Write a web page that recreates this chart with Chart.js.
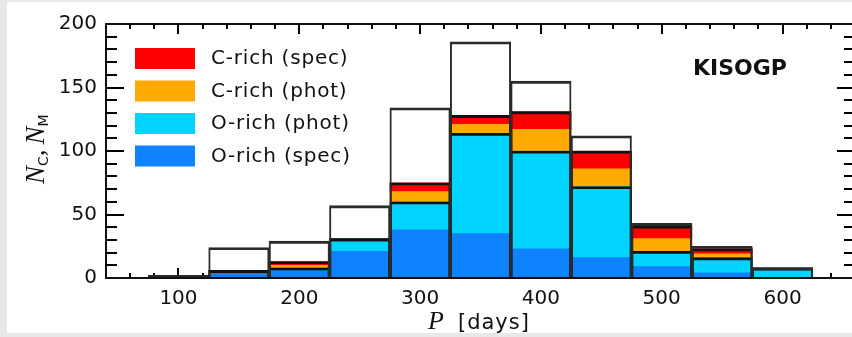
<!DOCTYPE html>
<html>
<head>
<meta charset="utf-8">
<script src="https://cdn.jsdelivr.net/npm/chart.js@4.4.1/dist/chart.umd.min.js"></script>
<style>
  html, body { margin: 0; padding: 0; overflow: hidden; background: #e6e8ea; }
  #panel { position: absolute; left: 7px; top: 2px; width: 845px; height: 331px; background: #fff; }
  #wrap { position: absolute; left: 0; top: 0; width: 860px; height: 337px; }
</style>
</head>
<body>
<div id="panel"></div>
<div id="wrap"><canvas id="chart"></canvas></div>
<script>
// bin centres (days), bins are 50 days wide
const periods = [100, 150, 200, 250, 300, 350, 400, 450, 500, 550, 600];
const oRichSpec = [2, 6, 7, 21, 38, 35, 23, 16, 9, 4, 0];
const oRichPhot = [0, 0, 1, 10, 22, 79, 77, 56, 12, 12, 8];
const cRichPhot = [0, 0, 2, 0, 8, 7, 17, 14, 10, 3, 0];
const cRichSpec = [0, 0, 3, 0, 7, 7, 14, 14, 10, 4, 0];
const allStars = [2, 24, 29, 57, 134, 186, 155, 112, 43, 25, 8];
const xTicks = [100, 200, 300, 400, 500, 600];
const yTicks = [0, 50, 100, 150, 200];
const legendNames = ["C-rich (spec)", "C-rich (phot)", "O-rich (phot)", "O-rich (spec)"];

const RED = "#ff0000";
const ORANGE = "#ffaa00";
const CYAN = "#00d4ff";
const BLUE = "#0f82ff";
const INK = "#111111";

const oTotal = periods.map((p, i) => oRichSpec[i] + oRichPhot[i]);
const cTop = periods.map((p, i) => oTotal[i] + cRichPhot[i] + cRichSpec[i]);
const rest = periods.map((p, i) => allStars[i] - cTop[i]);
const pts = (arr) => periods.map((p, i) => ({ x: p, y: arr[i] }));

const edge = { left: 1.3, right: 1.3, top: 2.2, bottom: 0 };

function outline(arr, key, color) {
  return {
    data: pts(arr),
    stack: key,
    backgroundColor: "rgba(0,0,0,0)",
    borderColor: color,
    borderWidth: edge,
  };
}
function fill(arr, color) {
  return { data: pts(arr), stack: "fill", backgroundColor: color, borderWidth: 0 };
}

function tickMarks(chart, side) {
  const ctx = chart.ctx;
  const area = chart.chartArea;
  const xs = chart.scales.x;
  const ys = chart.scales.y;
  const path = new Path2D();
  for (let v = 60; v < 660; v += 20) {
    const px = Math.round(xs.getPixelForValue(v));
    const len = v % 100 === 0 ? 10 : 5;
    if (side === "bottom") {
      path.moveTo(px, area.bottom);
      path.lineTo(px, area.bottom - len);
    } else {
      path.moveTo(px, area.top);
      path.lineTo(px, area.top + len);
    }
  }
  if (side !== "bottom") {
    for (let v = 10; v < 200; v += 10) {
      const py = Math.round(ys.getPixelForValue(v));
      const len = v % 50 === 0 ? 18 : 11;
      path.moveTo(area.left, py);
      path.lineTo(area.left + len, py);
      path.moveTo(area.right, py);
      path.lineTo(area.right - len, py);
    }
  }
  ctx.save();
  ctx.strokeStyle = "#000000";
  ctx.lineWidth = 2;
  ctx.stroke(path);
  ctx.restore();
}

const axisFrame = {
  id: "axisFrame",
  beforeDatasetsDraw(chart) {
    // bottom ticks sit behind the bars
    tickMarks(chart, "bottom");
  },
  afterDatasetsDraw(chart) {
    const { ctx, chartArea: { left, top, width, height } } = chart;
    ctx.save();
    ctx.strokeStyle = INK;
    ctx.lineWidth = 2;
    ctx.strokeRect(left, top, width, height);
    ctx.restore();
    tickMarks(chart, "other");
  },
};

const annotations = {
  id: "annotations",
  afterDraw(chart) {
    const { ctx, chartArea: { left, top } } = chart;
    const colors = [RED, ORANGE, CYAN, BLUE];
    ctx.save();
    ctx.fillStyle = INK;

    // legend
    ctx.font = '20px "DejaVu Sans"';
    ctx.textBaseline = "middle";
    ctx.letterSpacing = "0.8px";
    legendNames.forEach((name, i) => {
      const by = top + 24 + i * 32.5;
      ctx.fillStyle = colors[i];
      ctx.fillRect(left + 29, by, 60, 21);
      ctx.fillStyle = INK;
      ctx.fillText(name, left + 105, by + 11);
    });

    // label in corner
    ctx.letterSpacing = "0px";
    ctx.textBaseline = "alphabetic";
    ctx.font = 'bold 22px "DejaVu Sans"';
    ctx.fillText("KISOGP", 693, 75);

    // x title: P [days]
    ctx.font = 'italic 26px "Liberation Serif"';
    const pW = ctx.measureText("P").width;
    ctx.font = '21px "DejaVu Sans"';
    ctx.letterSpacing = "1px";
    const dW = ctx.measureText("[days]").width;
    const gap = 14;
    const tx = (left + 852) / 2 - (pW + gap + dW) / 2;
    ctx.letterSpacing = "0px";
    ctx.font = 'italic 26px "Liberation Serif"';
    ctx.fillText("P", tx, 329);
    ctx.font = '21px "DejaVu Sans"';
    ctx.letterSpacing = "1px";
    ctx.fillText("[days]", tx + pW + gap, 329);
    ctx.letterSpacing = "0px";

    // y title: N_C, N_M
    ctx.translate(44, 184);
    ctx.rotate(-Math.PI / 2);
    let cx = 0;
    const big = 'italic 27px "Liberation Serif"';
    const sub = '14px "DejaVu Sans"';
    const part = (txt, font, dy, extra) => {
      ctx.font = font;
      ctx.fillText(txt, cx, dy);
      cx += ctx.measureText(txt).width + extra;
    };
    part("N", big, 0, 0);
    part("C", sub, 4, 0);
    part(",", big, 0, 5);
    part("N", big, 0, 0);
    part("M", sub, 4, 0);
    ctx.restore();
  },
};

new Chart(document.getElementById("chart"), {
  type: "bar",
  data: {
    datasets: [
      outline(allStars, "lineAll", "#2b2b2b"),
      outline(cTop, "lineC", INK),
      outline(oTotal, "lineO", INK),
      fill(oRichSpec, BLUE),
      fill(oRichPhot, CYAN),
      fill(cRichPhot, ORANGE),
      fill(cRichSpec, RED),
      fill(rest, "#ffffff"),
    ],
  },
  plugins: [axisFrame, annotations],
  options: {
    responsive: true,
    maintainAspectRatio: false,
    animation: false,
    events: [],
    layout: { padding: { left: 0, top: 24, right: 5, bottom: 0 } },
    datasets: {
      bar: { grouped: false, barPercentage: 1, categoryPercentage: 1 },
    },
    plugins: {
      legend: { display: false },
      tooltip: { enabled: false },
    },
    scales: {
      x: {
        type: "linear",
        min: 40,
        max: 660,
        offset: false,
        grid: { display: false, drawTicks: false },
        border: { display: false },
        afterBuildTicks: (axis) => { axis.ticks = xTicks.map((v) => ({ value: v })); },
        afterFit: (axis) => { axis.height = 59; },
        ticks: {
          padding: 9,
          color: INK,
          font: { family: "DejaVu Sans", size: 20 },
          maxRotation: 0,
        },
      },
      y: {
        min: 0,
        max: 200,
        grid: { display: false, drawTicks: false },
        border: { display: false },
        afterBuildTicks: (axis) => { axis.ticks = yTicks.map((v) => ({ value: v })); },
        afterFit: (axis) => { axis.width = 106; },
        ticks: {
          padding: 9,
          color: INK,
          font: { family: "DejaVu Sans", size: 20 },
        },
      },
    },
  },
});
</script>
</body>
</html>
